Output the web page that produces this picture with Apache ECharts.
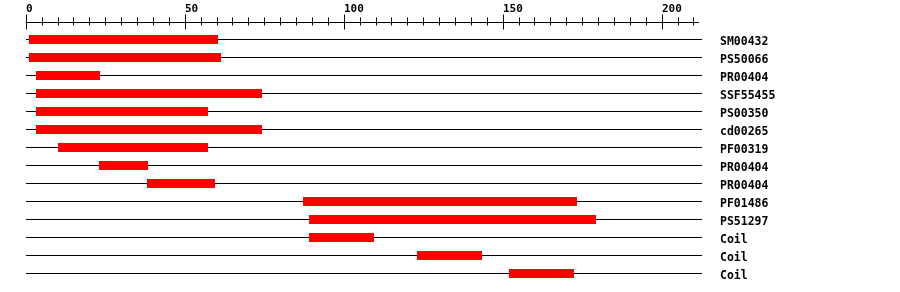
<!DOCTYPE html>
<html><head><meta charset="utf-8">
<script src="https://cdn.jsdelivr.net/npm/echarts@6/dist/echarts.min.js"></script>
<style>html,body{margin:0;padding:0;background:#fff}#c{width:900px;height:292px}</style>
</head><body><div id="c"></div>
<script>
var labels = ["SM00432","PS50066","PR00404","SSF55455","PS00350","cd00265","PF00319","PR00404","PR00404","PF01486","PS51297","Coil","Coil","Coil"];
var starts = [1,1,3,3,3,3,10,23,38,87,89,89,123,152];
var ends   = [60,61,23,74,57,74,57,38,59,173,179,109,143,172];
var majorTicks = [0,50,100,150,200];
var minorTicks = [0,5,10,15,20,25,30,35,40,45,50,55,60,65,70,75,80,85,90,95,100,105,110,115,120,125,130,135,140,145,150,155,160,165,170,175,180,185,190,195,200,205,210];

var AXIS_MAX = 211.5;
var ROW_MAX = 212.6;
var font = 'DejaVu Sans Mono';
var chart = echarts.init(document.getElementById('c'), null, {renderer:'canvas'});
var rows = labels.map(function(l,i){return [i, starts[i], ends[i]];});
function topAxis(vals, len, inside, showLine, showLabel){
  return {
    type:'value', gridIndex:0, position:'top', min:0, max:AXIS_MAX,
    axisLine:{show:showLine, lineStyle:{color:'#000', width:1}},
    axisTick:{show:true, inside:inside, length:len, customValues:vals, lineStyle:{color:'#000', width:1}},
    axisLabel:{show:showLabel, customValues:majorTicks, align:'left', margin:7,
      fontFamily:font, fontWeight:'bold', fontSize:11, color:'#000'},
    splitLine:{show:false}
  };
}
chart.setOption({
  animation:false,
  grid:[
    {left:26, top:21.5, width:672.5, height:1},
    {left:26, top:30.5, width:676, height:252}
  ],
  xAxis:[
    topAxis(majorTicks, 8, false, true, true),
    topAxis(majorTicks, 8, true, false, false),
    topAxis(minorTicks, 4, false, false, false),
    topAxis(minorTicks, 4, true, false, false),
    {type:'value', gridIndex:1, min:0, max:ROW_MAX, show:false}
  ],
  yAxis:[
    {type:'value', gridIndex:0, show:false},
    {type:'category', gridIndex:1, data:labels, inverse:true, position:'right',
     axisLine:{show:false}, axisTick:{show:false}, splitLine:{show:false},
     axisLabel:{margin:18, align:'left', verticalAlign:'top', lineHeight:6, fontFamily:font, fontWeight:'bold', fontSize:11.5, color:'#000'}}
  ],
  series:[{
    type:'custom', xAxisIndex:4, yAxisIndex:1, data:rows,
    encode:{x:[1,2], y:0},
    renderItem:function(params, api){
      var r = api.value(0);
      var a = api.coord([0, r]);
      var b = api.coord([ROW_MAX, r]);
      var s = api.coord([api.value(1), r]);
      var e = api.coord([api.value(2), r]);
      var y = Math.floor(a[1]);
      return {type:'group', children:[
        {type:'line', shape:{x1:a[0], y1:y+0.5, x2:b[0], y2:y+0.5}, style:{stroke:'#000', lineWidth:1}},
        {type:'rect', shape:{x:Math.round(s[0]), y:y-4, width:Math.round(e[0])-Math.round(s[0])+1, height:9}, style:{fill:'#ff0000'}}
      ]};
    }
  }]
});
</script></body></html>
